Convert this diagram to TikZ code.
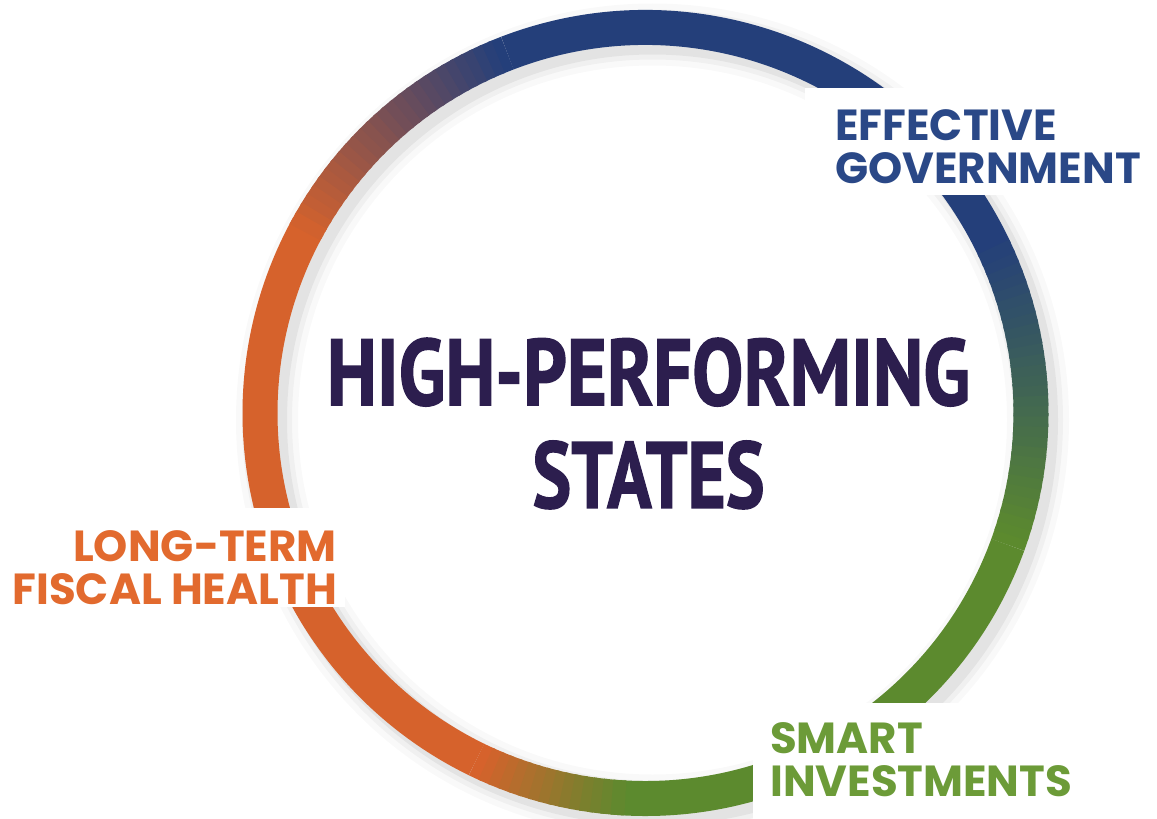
\documentclass[tikz,border=0pt]{standalone}
\usepackage{fontspec}
\newfontfamily\labelfont{Poppins}
\newfontfamily\titlefont{PT Sans}[BoldFeatures={FakeBold=1.6}]
\usetikzlibrary{positioning}

\definecolor{ringO}{RGB}{214,98,44}
\definecolor{ringB}{RGB}{36,63,122}
\definecolor{ringG}{RGB}{92,138,46}
\definecolor{txtO}{RGB}{226,106,46}
\definecolor{txtB}{RGB}{42,72,135}
\definecolor{txtG}{RGB}{108,155,56}
\definecolor{txtP}{RGB}{44,30,78}

\tikzset{
  ring/.style={line width=35pt},
  lbl/.style={font=\labelfont\bfseries\fontsize{43.5}{43.5}\selectfont, inner sep=0pt},
  title/.style={text=txtP, inner sep=0pt},
  knockout/.style={fill=white},
}

\newcommand{\rr}{385.5}

\begin{document}
\begin{tikzpicture}[x=1pt, y=-1pt]
  \useasboundingbox (0,0) rectangle (1157,819);
  \fill[white] (0,0) rectangle (1157,819);
  \coordinate (c) at (645.5,413);

  %% ring
  \begin{scope}[shift={(c)}, y=1pt]
    % shadow
    \foreach \w/\o in {62/0.025,50/0.035,40/0.05}
      \draw[black, opacity=\o, line width=\w pt] (7,-7) circle[radius=\rr];

    \draw[ring, ringG] (-94:\rr) arc[start angle=-94, end angle=-20, radius=\rr];
    \draw[ring, ringB] (25:\rr) arc[start angle=25, end angle=111, radius=\rr];
    \draw[ring, ringO] (151:\rr) arc[start angle=151, end angle=244, radius=\rr];

    \foreach \a in {-116,-114.5,...,-95} {
      \pgfmathtruncatemacro\p{(\a+116)/22*100}
      \colorlet{segc}{ringG!\p!ringO}
      \draw[ring, segc] (\a:\rr) arc[start angle=\a, end angle=\a+2, radius=\rr];
    }
    \foreach \a in {-20,-18.5,...,24} {
      \pgfmathtruncatemacro\p{(\a+20)/45*100}
      \colorlet{segc}{ringB!\p!ringG}
      \draw[ring, segc] (\a:\rr) arc[start angle=\a, end angle=\a+2, radius=\rr];
    }
    \foreach \a in {111,112.5,...,150} {
      \pgfmathtruncatemacro\p{(\a-111)/40*100}
      \colorlet{segc}{ringO!\p!ringB}
      \draw[ring, segc] (\a:\rr) arc[start angle=\a, end angle=\a+2, radius=\rr];
    }
  \end{scope}

  %% gaps for the labels
  \fill[knockout] (805,88) rectangle (1157,195);
  \fill[knockout] (0,508) rectangle (345,607);
  \fill[knockout] (753,703) rectangle (1157,819);

  %% labels
  \node[lbl, text=txtB, anchor=base west] (eff) at (835,140) {EFFECTIVE};
  \node[lbl, text=txtB, below right=12pt and 0pt of eff.south west] (gov) {GOVERNMENT};

  \node[lbl, text=txtO, anchor=base east] (lt) at (337,561) {LONG-TERM};
  \node[lbl, text=txtO, below left=12pt and 0pt of lt.south east] (fh) {FISCAL HEALTH};

  \node[lbl, text=txtG, anchor=base west] (sm) at (770,753) {SMART};
  \node[lbl, text=txtG, below right=12pt and 0pt of sm.south west] (inv) {INVESTMENTS};

  %% centre
  \node[title, anchor=base] (hp) at (648.5,405) {\resizebox{643pt}{67pt}{\titlefont\bfseries HIGH-PERFORMING}};
  \node[title, below=34pt of hp] (st) {\resizebox{232pt}{67pt}{\titlefont\bfseries STATES}};
\end{tikzpicture}
\end{document}
